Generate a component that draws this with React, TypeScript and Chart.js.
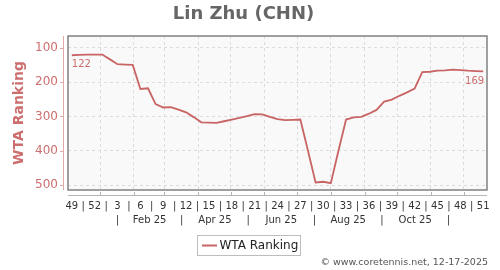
import React, { useEffect, useRef } from "react";
import { Chart, registerables } from "chart.js";

Chart.register(...registerables);

// ---- data ----
const weekNumbers = [
  49, 50, 51, 52, 1, 2, 3, 4, 5, 6, 7, 8, 9, 10, 11, 12, 13, 14, 15, 16, 17, 18, 19,
  20, 21, 22, 23, 24, 25, 26, 27, 28, 29, 30, 31, 32, 33, 34, 35, 36, 37, 38, 39,
  40, 41, 42, 43, 44, 45, 46, 47, 48, 49, 50, 51,
];
const rankings = [
  122, 121, 120, 120, 120, 134, 148, 149, 150, 220, 218, 264, 274, 273, 280, 288,
  302, 317, 318, 319, 314, 309, 304, 299, 293, 294, 301, 308, 311, 310, 309, 400,
  492, 490, 494, 400, 309, 303, 301, 292, 281, 257, 251, 240, 230, 219, 171, 170,
  167, 166, 164, 165, 167, 168, 169,
];
const seriesLabel = "WTA Ranking";
const chartTitle = "Lin Zhu (CHN)";
const yTickValues = [100, 200, 300, 400, 500];
const weekLabelEvery = 3;
const firstPointDateUTC = Date.UTC(2024, 11, 6);
const gridMonths2025 = [0, 1, 2, 3, 4, 5, 6, 7, 8, 9, 10, 11];
const monthRowSeparatorMonths = [0, 2, 4, 6, 8, 10];
const monthRowSeparatorDay = 17;
const monthRowLabels = ["Feb 25", "Apr 25", "Jun 25", "Aug 25", "Oct 25"];
const copyrightText = "\u00A9 www.coretennis.net, 12-17-2025";

// ---- helpers ----
const WEEK_MS = 7 * 24 * 3600 * 1000;
const posOfDate = (utc: number) => (utc - firstPointDateUTC) / WEEK_MS;

const monthGridPositions = gridMonths2025.map((m) => posOfDate(Date.UTC(2025, m, 1)));

const weekTicks: { value: number; text: string }[] = [];
weekNumbers.forEach((w, i) => {
  if (i % weekLabelEvery === 0) {
    if (i > 0) weekTicks.push({ value: i - weekLabelEvery / 2, text: "|" });
    weekTicks.push({ value: i, text: String(w) });
  }
});

const sepPositions = monthRowSeparatorMonths.map((m) =>
  posOfDate(Date.UTC(2025, m, monthRowSeparatorDay))
);
const monthTicks: { value: number; text: string }[] = [];
sepPositions.forEach((p, i) => {
  monthTicks.push({ value: p, text: "|" });
  if (i < monthRowLabels.length && i + 1 < sepPositions.length) {
    monthTicks.push({ value: (p + sepPositions[i + 1]) / 2, text: monthRowLabels[i] });
  }
});

const LINE_COLOR = "#c96464";
const PINK_TEXT = "#cc6e6e";
const FONT = "'DejaVu Sans', sans-serif";

const decorPlugin = {
  id: "decor",
  beforeDraw(chart: any) {
    const { ctx, chartArea } = chart;
    ctx.save();
    ctx.fillStyle = "#f9f9f9";
    ctx.fillRect(chartArea.left, chartArea.top, chartArea.right - chartArea.left, chartArea.bottom - chartArea.top);
    ctx.restore();
  },
  afterDraw(chart: any) {
    const { ctx, chartArea } = chart;
    const { left, right, top, bottom } = chartArea;
    const xs = chart.scales.x;
    const ys = chart.scales.y;
    ctx.save();
    // plot frame
    ctx.strokeStyle = "#808080";
    ctx.lineWidth = 1.5;
    ctx.strokeRect(left, top, right - left, bottom - top);

    // y axis line (detached)
    ctx.strokeStyle = "#e3a9a9";
    ctx.lineWidth = 1;
    ctx.beginPath();
    ctx.moveTo(left - 4.5, top);
    ctx.lineTo(left - 4.5, bottom);
    yTickValues.forEach((v) => {
      const py = Math.round(ys.getPixelForValue(v)) + 0.5;
      ctx.moveTo(left - 8, py);
      ctx.lineTo(left - 4.5, py);
    });
    ctx.stroke();

    // x axis line (detached)
    ctx.strokeStyle = "#b4b4b4";
    ctx.beginPath();
    ctx.moveTo(left, bottom + 5.5);
    ctx.lineTo(right, bottom + 5.5);
    monthGridPositions.forEach((p) => {
      const px = Math.round(xs.getPixelForValue(p)) + 0.5;
      ctx.moveTo(px, bottom + 2);
      ctx.lineTo(px, bottom + 5.5);
    });
    ctx.stroke();

    // first / last value labels
    const meta = chart.getDatasetMeta(0);
    const pts = meta.data;
    ctx.fillStyle = PINK_TEXT;
    ctx.font = `10px ${FONT}`;
    ctx.textBaseline = "middle";
    if (pts.length) {
      const f = pts[0];
      const l = pts[pts.length - 1];
      ctx.textAlign = "left";
      ctx.fillText(String(rankings[0]), f.x, f.y + 9);
      ctx.textAlign = "right";
      ctx.fillText(String(rankings[rankings.length - 1]), l.x + 1, l.y + 9.5);
    }

    // legend
    const ds = chart.data.datasets[0];
    const bx = 197.5, by = 235.5, bw = 103, bh = 20;
    ctx.fillStyle = "#ffffff";
    ctx.fillRect(bx, by, bw, bh);
    ctx.strokeStyle = "#bdbdbd";
    ctx.lineWidth = 1;
    ctx.strokeRect(bx, by, bw, bh);
    ctx.strokeStyle = ds.borderColor;
    ctx.lineWidth = 2;
    ctx.beginPath();
    ctx.moveTo(bx + 4.5, by + 10);
    ctx.lineTo(bx + 19.5, by + 10);
    ctx.stroke();
    ctx.fillStyle = "#222";
    ctx.font = `12px ${FONT}`;
    ctx.textAlign = "left";
    ctx.fillText(ds.label, bx + 22, by + 10.5);

    // copyright
    ctx.fillStyle = "#555";
    ctx.font = `9.5px ${FONT}`;
    ctx.textAlign = "right";
    ctx.fillText(copyrightText, 488, 262.5);
    ctx.restore();
  },
};

export default function App() {
  const ref = useRef<HTMLCanvasElement | null>(null);
  useEffect(() => {
    if (!ref.current) return;
    Chart.defaults.font.family = FONT;
    const chart = new Chart(ref.current, {
      type: "line",
      data: {
        datasets: [
          {
            label: seriesLabel,
            data: rankings.map((v, i) => ({ x: i, y: v })),
            borderColor: LINE_COLOR,
            backgroundColor: LINE_COLOR,
            borderWidth: 1.8,
            pointRadius: 0,
            tension: 0,
            fill: false,
          },
        ],
      },
      options: {
        animation: false,
        responsive: false,
        devicePixelRatio: 1,
        layout: { padding: { left: 0, right: 13, top: 0, bottom: 42 } },
        plugins: {
          legend: { display: false },
          tooltip: { enabled: false },
          title: {
            display: true,
            text: chartTitle,
            color: "#666",
            font: { size: 18, weight: "bold", family: FONT },
            padding: { top: 4, bottom: 10.4 },
          },
        },
        scales: {
          x: {
            type: "linear",
            position: "bottom",
            weight: 0,
            min: -0.5,
            max: weekNumbers.length - 0.5,
            afterBuildTicks: (s: any) => {
              s.ticks = monthGridPositions.map((v) => ({ value: v }));
            },
            ticks: { display: false },
            grid: { color: "#dcdcdc", lineWidth: 1, drawTicks: false },
            border: { display: false, dash: [3, 3] },
            afterFit: (s: any) => {
              s.height = 6;
              s.paddingLeft = 0;
              s.paddingRight = 0;
            },
          },
          xw: {
            type: "linear",
            position: "bottom",
            weight: 1,
            min: -0.5,
            max: weekNumbers.length - 0.5,
            afterBuildTicks: (s: any) => {
              s.ticks = weekTicks.map((t) => ({ value: t.value }));
            },
            ticks: {
              autoSkip: false,
              maxRotation: 0,
              minRotation: 0,
              padding: 4,
              color: "#333",
              font: { size: 10, family: FONT },
              callback: (_v: any, i: number) => weekTicks[i] ? weekTicks[i].text : "",
            },
            grid: { display: false, drawTicks: false },
            border: { display: false },
            afterFit: (s: any) => {
              s.height = 16;
              s.paddingLeft = 0;
              s.paddingRight = 0;
            },
          },
          xm: {
            type: "linear",
            position: "bottom",
            weight: 2,
            min: -0.5,
            max: weekNumbers.length - 0.5,
            afterBuildTicks: (s: any) => {
              s.ticks = monthTicks.map((t) => ({ value: t.value }));
            },
            ticks: {
              autoSkip: false,
              maxRotation: 0,
              minRotation: 0,
              padding: 2,
              color: "#333",
              font: { size: 10, family: FONT },
              callback: (_v: any, i: number) => monthTicks[i] ? monthTicks[i].text : "",
            },
            grid: { display: false, drawTicks: false },
            border: { display: false },
            afterFit: (s: any) => {
              s.height = 16;
              s.paddingLeft = 0;
              s.paddingRight = 0;
            },
          },
          y: {
            type: "linear",
            reverse: true,
            min: 66,
            max: 514,
            afterBuildTicks: (s: any) => {
              s.ticks = yTickValues.map((v) => ({ value: v }));
            },
            ticks: {
              padding: 10,
              color: PINK_TEXT,
              font: { size: 12, family: FONT },
            },
            grid: { color: "#dcdcdc", lineWidth: 1, drawTicks: false },
            border: { display: false, dash: [3, 3] },
            title: {
              display: true,
              text: seriesLabel,
              color: PINK_TEXT,
              font: { size: 14, weight: "bold", family: FONT },
              padding: { top: 11, bottom: 0 },
            },
            afterFit: (s: any) => {
              s.width = 68;
              s.paddingTop = 0;
              s.paddingBottom = 0;
            },
          },
        },
      },
      plugins: [decorPlugin],
    } as any);
    return () => chart.destroy();
  }, []);
  return (
    <div style={{ position: "absolute", left: 0, top: 0, width: 500, height: 270, background: "#fff" }}>
      <canvas ref={ref} width={500} height={270} style={{ display: "block", width: 500, height: 270 }} />
    </div>
  );
}
